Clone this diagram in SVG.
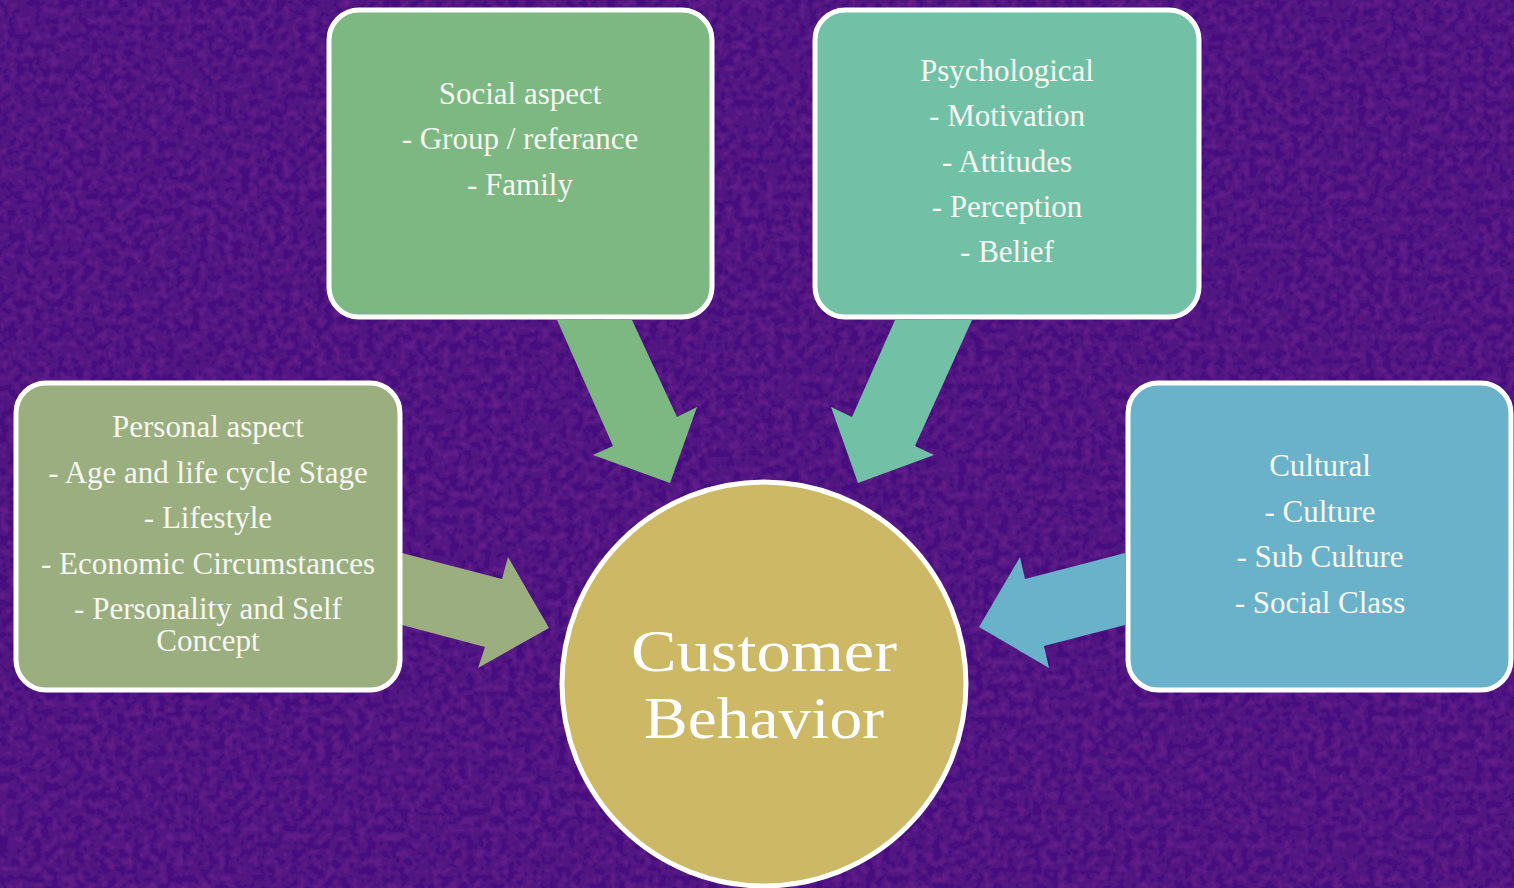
<svg xmlns="http://www.w3.org/2000/svg" width="1514" height="888" viewBox="0 0 1514 888">
<style>
.box{stroke:#ffffff;stroke-width:5}
.t{font-family:"Liberation Serif","Times New Roman",serif;font-size:31px;fill:#f7f7f2;text-anchor:middle}
.title{font-family:"Liberation Serif","Times New Roman",serif;font-size:60px;fill:#ffffff;text-anchor:middle}
</style>
<defs>
<filter id="tex" x="0" y="0" width="100%" height="100%">
<feTurbulence type="fractalNoise" baseFrequency="0.12" numOctaves="2" seed="7" result="n"/>
<feColorMatrix in="n" type="matrix" values="0 0 0 0 0.18  0 0 0 0 0.02  0 0 0 0 0.3  0 0 0 1.2 -0.45" result="c"/>
<feComposite in="c" in2="SourceGraphic" operator="over"/>
</filter>
</defs>
<rect x="0" y="0" width="1514" height="888" fill="#47107e" filter="url(#tex)"/>
<g id="connectors">
<polygon fill="#7db782" points="557,320 632,320 677,417 697,407 670,483 593,455 613,446"/>
<polygon fill="#72c1a6" points="972,320 895,320 852,417 831,407 858,483 934,455 915,446"/>
<polygon fill="#9aae80" points="402,553 502,579 508,557 549,628 478,668 485,647 402,625"/>
<polygon fill="#6ab2ca" points="1125,553 1025,579 1020,557 979,627 1049,668 1044,646 1125,625"/>
</g>
<g id="social">
<rect class="box" x="329" y="10" width="383" height="307" rx="30" fill="#7db782"/>
<text class="t" x="520" y="104">Social aspect</text>
<text class="t" x="520" y="149">- Group / referance</text>
<text class="t" x="520" y="195">- Family</text>
</g>
<g id="psychological">
<rect class="box" x="815" y="10" width="384" height="307" rx="30" fill="#72c1a6"/>
<text class="t" x="1007" y="81">Psychological</text>
<text class="t" x="1007" y="126">- Motivation</text>
<text class="t" x="1007" y="172">- Attitudes</text>
<text class="t" x="1007" y="217">- Perception</text>
<text class="t" x="1007" y="262">- Belief</text>
</g>
<g id="personal">
<rect class="box" x="16" y="383" width="384" height="307" rx="30" fill="#9aae80"/>
<text class="t" x="208" y="437">Personal aspect</text>
<text class="t" x="208" y="483">- Age and life cycle Stage</text>
<text class="t" x="208" y="528">- Lifestyle</text>
<text class="t" x="208" y="574">- Economic Circumstances</text>
<text class="t" x="208" y="619">- Personality and Self</text>
<text class="t" x="208" y="651">Concept</text>
</g>
<g id="cultural">
<rect class="box" x="1128" y="383" width="383" height="307" rx="30" fill="#6ab2ca"/>
<text class="t" x="1320" y="476">Cultural</text>
<text class="t" x="1320" y="522">- Culture</text>
<text class="t" x="1320" y="567">- Sub Culture</text>
<text class="t" x="1320" y="613">- Social Class</text>
</g>
<g id="customer-behavior">
<circle class="box" cx="764" cy="684" r="202" fill="#ccb865"/>
<text class="title" x="764" y="671" textLength="266" lengthAdjust="spacingAndGlyphs">Customer</text>
<text class="title" x="764" y="738" textLength="240" lengthAdjust="spacingAndGlyphs">Behavior</text>
</g>
</svg>
